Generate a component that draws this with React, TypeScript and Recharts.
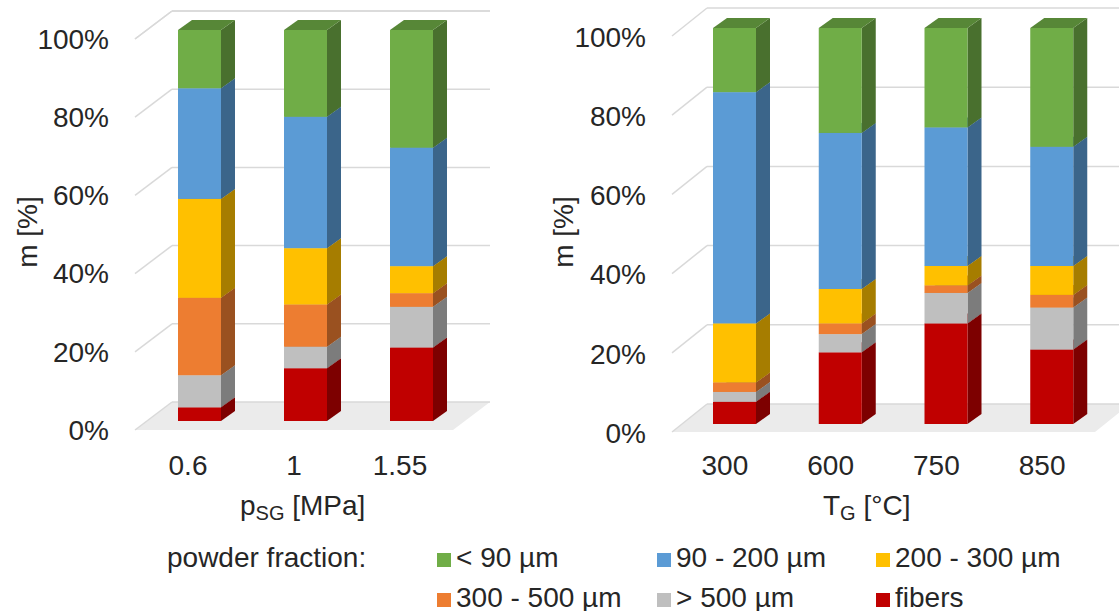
import { BarChart, Bar, XAxis, YAxis, CartesianGrid } from 'recharts'

// bottom -> top stacking order
const seriesKeys = ['fibers', 'over500', 'f300', 'f200', 'f90', 'under90']
const seriesNames = ['fibers', '> 500 µm', '300 - 500 µm', '200 - 300 µm', '90 - 200 µm', '< 90 µm']
const seriesColors = ['#C00000', '#BFBFBF', '#ED7D31', '#FFC000', '#5B9BD5', '#70AD47']

const pressureLabels = ['0.6', '1', '1.55']
const pressureFibers = [3.5, 13.5, 18.8]
const pressureOver500 = [8.2, 5.5, 10.4]
const pressure300 = [19.8, 10.8, 3.5]
const pressure200 = [25.3, 14.4, 6.9]
const pressure90 = [28.3, 33.6, 30.3]
const pressureUnder90 = [14.9, 22.2, 30.1]

const tempLabels = ['300', '600', '750', '850']
const tempFibers = [5.6, 18.1, 25.4, 18.8]
const tempOver500 = [2.5, 4.6, 7.7, 10.6]
const temp300 = [2.4, 2.7, 1.9, 3.2]
const temp200 = [14.9, 8.7, 4.9, 7.3]
const temp90 = [58.4, 39.4, 35.0, 30.1]
const tempUnder90 = [16.2, 26.5, 25.1, 30.0]

const yTicks = [0, 20, 40, 60, 80, 100]

const FONT = '"Liberation Sans", Arial, sans-serif'
const TEXT = '#262626'
const GRID = '#D9D9D9'

function buildRows(labels: string[], cols: number[][]) {
  return labels.map((name, i) => {
    const row: any = { name }
    seriesKeys.forEach((k, j) => { row[k] = cols[j][i] })
    return row
  })
}

const pressureData = buildRows(pressureLabels, [pressureFibers, pressureOver500, pressure300, pressure200, pressure90, pressureUnder90])
const tempData = buildRows(tempLabels, [tempFibers, tempOver500, temp300, temp200, temp90, tempUnder90])

function shade(hex: string, f: number) {
  const n = parseInt(hex.slice(1), 16)
  const r = Math.round(((n >> 16) & 255) * f)
  const g = Math.round(((n >> 8) & 255) * f)
  const b = Math.round((n & 255) * f)
  return `rgb(${r},${g},${b})`
}

const DX = 14
const DY = 10

function Box3D(props: any) {
  const { x, y, width: w, height: h, color } = props
  if (w == null || h == null || isNaN(y)) return null
  return (
    <g>
      <polygon points={`${x + w},${y} ${x + w + DX},${y - DY} ${x + w + DX},${y + h - DY} ${x + w},${y + h}`} fill={shade(color, 0.65)} />
      <polygon points={`${x},${y} ${x + DX},${y - DY} ${x + w + DX},${y - DY} ${x + w},${y}`} fill={shade(color, 0.78)} />
      <rect x={x} y={y} width={w} height={h} fill={color} />
    </g>
  )
}

type Cfg = {
  data: any[]
  left: number
  width: number
  top: number
  yAxisWidth: number
  right: number
  bottom: number
  tickX: number
  front: [number, number]
  back: [number, number]
}

function StackChart({ data, left, width, top, yAxisWidth, right, bottom, tickX, front, back }: Cfg) {
  const height = 540
  const gridLine = (p: any) => {
    const { x1, x2, y1 } = p
    const isFloor = Math.abs(y1 - bottom) < 1
    return (
      <g key={p.key ?? `g-${y1}`}>
        {isFloor && (
          <polygon
            points={`${x1 + front[0]},${y1 + front[1]} ${x2 + front[0]},${y1 + front[1]} ${x2 + back[0]},${y1 + back[1]} ${x1 + back[0]},${y1 + back[1]}`}
            fill="#EBEBEB"
          />
        )}
        <line x1={x1 + front[0]} y1={y1 + front[1]} x2={x1 + back[0]} y2={y1 + back[1]} stroke={GRID} strokeWidth={1.5} />
        <line x1={x1 + back[0]} y1={y1 + back[1]} x2={x2 + back[0]} y2={y1 + back[1]} stroke={GRID} strokeWidth={1.5} />
      </g>
    )
  }

  return (
    <div style={{ position: 'absolute', left, top: 0 }}>
      <BarChart
        width={width}
        height={height}
        data={data}
        margin={{ top, right, bottom: 0, left: 0 }}
        barSize={43}
      >
        <CartesianGrid vertical={false} horizontal={gridLine} />
        <XAxis
          dataKey="name"
          height={height - bottom}
          axisLine={false}
          tickLine={false}
          tick={(p: any) => (
            <text x={p.x + front[0]} y={475} textAnchor="middle" fontSize={28} fontFamily={FONT} fill={TEXT}>
              {p.payload.value}
            </text>
          )}
        />
        <YAxis
          type="number"
          domain={[0, 100]}
          ticks={yTicks}
          width={yAxisWidth}
          axisLine={false}
          tickLine={false}
          tick={(p: any) => (
            <text x={tickX} y={p.y + 9} dy="0.35em" textAnchor="end" fontSize={28} fontFamily={FONT} fill={TEXT}>
              {`${p.payload.value}%`}
            </text>
          )}
        />
        {seriesKeys.map((k, i) => (
          <Bar
            key={k}
            dataKey={k}
            name={seriesNames[i]}
            stackId="a"
            fill={seriesColors[i]}
            isAnimationActive={false}
            shape={(p: any) => <Box3D {...p} color={seriesColors[i]} />}
          />
        ))}
      </BarChart>
    </div>
  )
}

export default function App() {
  const legendCols = [437, 657, 876]
  const legendRows = [567, 607]
  const legendOrder = [5, 4, 3, 2, 1, 0]

  return (
    <div style={{ position: 'absolute', left: 0, top: 0, width: 1119, height: 611, background: '#fff', fontFamily: FONT }}>
      <StackChart
        data={pressureData}
        left={0}
        width={540}
        top={30}
        yAxisWidth={146}
        right={76}
        bottom={421}
        tickX={109}
        front={[-11, 9]}
        back={[26, -19]}
      />
      <StackChart
        data={tempData}
        left={540}
        width={579}
        top={28}
        yAxisWidth={142}
        right={14}
        bottom={424}
        tickX={106}
        front={[-10, 8]}
        back={[25, -20]}
      />
      <svg width={1119} height={611} style={{ position: 'absolute', left: 0, top: 0, pointerEvents: 'none' }}>
        <text transform="translate(27,232) rotate(-90)" dy="0.35em" textAnchor="middle" fontSize={28} fill={TEXT}>m [%]</text>
        <text transform="translate(563,232) rotate(-90)" dy="0.35em" textAnchor="middle" fontSize={28} fill={TEXT}>m [%]</text>
        <text x={240} y={515} fontSize={28} fill={TEXT}>
          p<tspan fontSize={20} dy={5}>SG</tspan><tspan dy={-5}> [MPa]</tspan>
        </text>
        <text x={823} y={515} fontSize={28} fill={TEXT}>
          T<tspan fontSize={20} dy={5}>G</tspan><tspan dy={-5}> [°C]</tspan>
        </text>
        <text x={167} y={567} fontSize={28} fill={TEXT}>powder fraction:</text>
        {legendOrder.map((si, n) => {
          const x = legendCols[n % 3]
          const y = legendRows[Math.floor(n / 3)]
          return (
            <g key={si}>
              <rect x={x} y={y - 14} width={14} height={14} fill={seriesColors[si]} />
              <text x={x + 19} y={y} fontSize={28} fill={TEXT}>{seriesNames[si]}</text>
            </g>
          )
        })}
      </svg>
    </div>
  )
}
